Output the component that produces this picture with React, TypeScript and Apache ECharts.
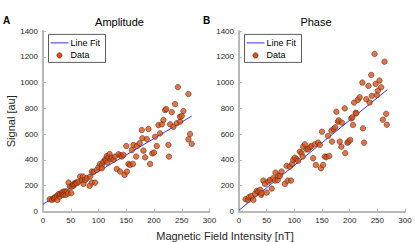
import React, { useEffect, useRef } from "react";
import * as echarts from "echarts";

const xTicks = [0, 50, 100, 150, 200, 250, 300];
const yTicks = [0, 200, 400, 600, 800, 1000, 1200, 1400];

const ampData: number[][] = [
  [12, 95], [16, 90], [19, 103], [20, 100], [22, 111], [25, 121], [26, 90], [28, 135], [30, 116], [31, 137],
  [34, 147], [35, 130], [37, 155], [37, 129], [40, 155], [41, 129], [43, 155], [45, 140], [46, 224], [49, 193],
  [51, 142], [52, 193], [55, 201], [55, 215], [58, 219], [60, 225], [61, 219], [64, 232], [67, 271], [70, 245],
  [72, 271], [73, 214], [76, 245], [79, 258], [84, 199], [85, 271], [88, 224], [88, 310], [91, 307], [94, 224],
  [97, 322], [100, 343], [103, 369], [106, 361], [106, 335], [109, 387], [112, 405], [113, 395], [115, 430], [116, 380],
  [118, 420], [120, 446], [122, 405], [124, 418], [127, 400], [130, 426], [133, 330], [136, 444], [139, 310], [140, 435],
  [142, 426], [145, 440], [147, 284], [150, 508], [151, 310], [154, 369], [157, 361], [160, 477], [162, 369], [163, 516],
  [168, 426], [169, 508], [174, 529], [178, 632], [179, 568], [181, 472], [184, 420], [187, 562], [190, 640], [193, 369],
  [197, 450], [200, 457], [202, 580], [205, 508], [208, 670], [211, 606], [214, 676], [217, 709], [220, 787], [222, 794],
  [226, 516], [227, 426], [229, 676], [232, 771], [235, 657], [238, 833], [241, 684], [243, 965], [247, 697], [247, 735],
  [250, 740], [253, 779], [262, 911], [262, 560], [265, 601], [268, 524],
];

const phaseData: number[][] = [
  [12, 95], [16, 90], [18, 111], [22, 121], [26, 90], [29, 137], [32, 160], [35, 155], [38, 168], [40, 129],
  [41, 142], [44, 240], [47, 214], [50, 147], [53, 232], [56, 245], [59, 178], [62, 258], [65, 240], [66, 302],
  [70, 245], [71, 276], [74, 276], [77, 310], [83, 214], [86, 353], [88, 240], [92, 348], [94, 240], [96, 369],
  [98, 400], [101, 418], [104, 405], [107, 392], [110, 464], [113, 452], [115, 426], [116, 503], [119, 521], [122, 482],
  [125, 482], [128, 498], [131, 508], [134, 413], [137, 521], [139, 361], [143, 534], [146, 516], [148, 335], [150, 619],
  [152, 361], [155, 426], [158, 421], [161, 586], [163, 431], [167, 627], [168, 542], [171, 640], [174, 653], [176, 774],
  [179, 697], [180, 707], [182, 542], [185, 503], [186, 689], [191, 800], [192, 452], [196, 534], [198, 542], [201, 555],
  [203, 722], [205, 730], [206, 671], [208, 845], [211, 766], [212, 761], [215, 866], [218, 886], [223, 1000], [224, 645],
  [226, 534], [230, 871], [234, 974], [236, 845], [239, 1059], [240, 897], [245, 1222], [247, 990], [249, 902], [251, 938],
  [254, 1016], [257, 963], [260, 712], [263, 1162], [266, 758], [267, 673],
];

const ampFit: number[][] = [[0, 57], [268, 740]];
const phaseFit: number[][] = [[0, 10], [268, 945]];

const titles = ["Amplitude", "Phase"];
const panelLetters = ["A", "B"];
const legendNames = ["Line Fit", "Data"];

const FONT = "Liberation Sans, Arial, sans-serif";
const AXIS_GREY = "#b8b8b8";
const TEXT_COL = "#262626";
const DOT_COL = "#D95319";
const LINE_COL = "#3434ff";

export default function App() {
  const ref = useRef<HTMLDivElement>(null);
  useEffect(() => {
    if (!ref.current) return;
    const chart = echarts.init(ref.current, null, { renderer: "svg" });
    const grids = [
      { left: 43, right: 205.5, top: 31, bottom: 30.5 },
      { left: 239, right: 10, top: 31, bottom: 30.5 },
    ];
    const mkX = (i: number) => ({
      type: "value",
      gridIndex: i,
      min: xTicks[0],
      max: xTicks[xTicks.length - 1],
      interval: 50,
      axisLine: { show: true, lineStyle: { color: AXIS_GREY, width: 2 } },
      axisTick: { show: true, inside: true, length: 3, lineStyle: { color: AXIS_GREY, width: 1 } },
      axisLabel: { color: TEXT_COL, fontSize: 8, fontFamily: FONT, margin: 5, formatter: (v: number) => String(v) },
      splitLine: { show: false },
    });
    const mkY = (i: number) => ({
      type: "value",
      gridIndex: i,
      min: yTicks[0],
      max: yTicks[yTicks.length - 1],
      interval: 200,
      axisLine: { show: true, lineStyle: { color: AXIS_GREY, width: 2 } },
      axisTick: { show: true, inside: true, length: 3, lineStyle: { color: AXIS_GREY, width: 1 } },
      axisLabel: { color: TEXT_COL, fontSize: 8, fontFamily: FONT, margin: 5, formatter: (v: number) => String(v) },
      splitLine: { show: false },
      ...(i === 0
        ? {
            name: "Signal [au]",
            nameLocation: "middle",
            nameGap: 27,
            nameTextStyle: { color: TEXT_COL, fontSize: 11, fontFamily: FONT },
          }
        : {}),
    });

    const legendGraphic = (x0: number) => ({
      type: "group",
      left: x0,
      top: 34,
      children: [
        { type: "rect", shape: { x: 0, y: 0, width: 57, height: 28 }, style: { fill: "#fff", stroke: "#333", lineWidth: 0.8 } },
        { type: "line", shape: { x1: 2, y1: 8.5, x2: 20, y2: 8.5 }, style: { stroke: LINE_COL, lineWidth: 1 } },
        { type: "text", x: 22, y: 8.5, style: { text: legendNames[0], fontSize: 9, fontFamily: FONT, fill: "#000", textVerticalAlign: "middle" } },
        { type: "circle", shape: { cx: 11, cy: 21, r: 2.6 }, style: { fill: DOT_COL, stroke: "#3a1a0a", lineWidth: 0.6 } },
        { type: "text", x: 22, y: 21, style: { text: legendNames[1], fontSize: 9, fontFamily: FONT, fill: "#000", textVerticalAlign: "middle" } },
      ],
    });

    chart.setOption({
      animation: false,
      backgroundColor: "#fff",
      grid: grids,
      xAxis: [mkX(0), mkX(1)],
      yAxis: [mkY(0), mkY(1)],
      series: [
        { name: "Line Fit", type: "line", xAxisIndex: 0, yAxisIndex: 0, data: ampFit, symbol: "none", lineStyle: { color: LINE_COL, width: 1 }, z: 2 },
        { name: "Data", type: "scatter", xAxisIndex: 0, yAxisIndex: 0, data: ampData, symbolSize: 5.5, itemStyle: { color: DOT_COL, borderColor: "#3a1a0a", borderWidth: 0.6 }, z: 3 },
        { name: "Line Fit", type: "line", xAxisIndex: 1, yAxisIndex: 1, data: phaseFit, symbol: "none", lineStyle: { color: LINE_COL, width: 1 }, z: 2 },
        { name: "Data", type: "scatter", xAxisIndex: 1, yAxisIndex: 1, data: phaseData, symbolSize: 5.5, itemStyle: { color: DOT_COL, borderColor: "#3a1a0a", borderWidth: 0.6 }, z: 3 },
      ],
      graphic: [
        { type: "text", x: 119.5, y: 22, style: { text: titles[0], fontSize: 11, fontFamily: FONT, fill: "#000", textAlign: "center", textVerticalAlign: "middle" } },
        { type: "text", x: 316, y: 22, style: { text: titles[1], fontSize: 11, fontFamily: FONT, fill: "#000", textAlign: "center", textVerticalAlign: "middle" } },
        { type: "text", x: 3, y: 20, style: { text: panelLetters[0], fontSize: 10, fontWeight: "bold", fontFamily: FONT, fill: "#000", textVerticalAlign: "middle" } },
        { type: "text", x: 203, y: 20, style: { text: panelLetters[1], fontSize: 10, fontWeight: "bold", fontFamily: FONT, fill: "#000", textVerticalAlign: "middle" } },
        { type: "text", x: 225, y: 236, style: { text: "Magnetic Field Intensity [nT]", fontSize: 11, fontFamily: FONT, fill: TEXT_COL, textAlign: "center", textVerticalAlign: "middle" } },
        legendGraphic(48),
        legendGraphic(244),
      ],
    });
    return () => chart.dispose();
  }, []);
  return <div ref={ref} style={{ position: "fixed", left: 0, top: 0, width: 415, height: 242 }} />;
}
